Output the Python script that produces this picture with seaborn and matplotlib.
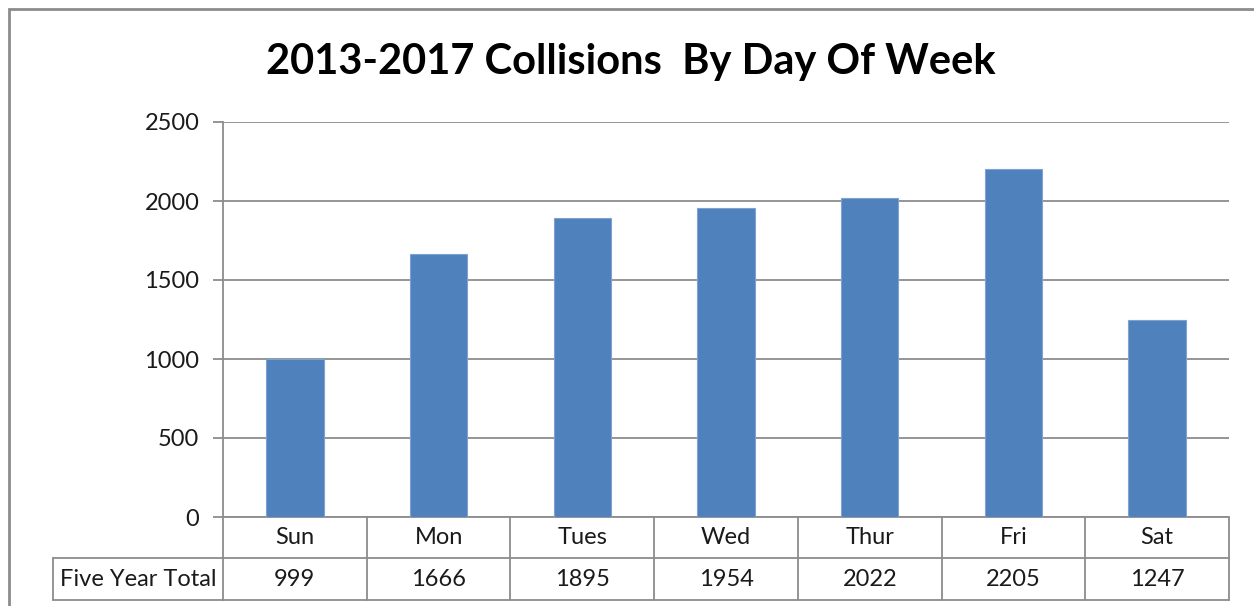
import matplotlib
matplotlib.use("Agg")
import matplotlib.pyplot as plt
import matplotlib.transforms as mtransforms
from matplotlib.patches import Rectangle
import seaborn as sns
import pandas as pd

# ---- data ----
days = ["Sun", "Mon", "Tues", "Wed", "Thur", "Fri", "Sat"]
totals = [999, 1666, 1895, 1954, 2022, 2205, 1247]
row_label = "Five Year Total"
title = "2013-2017 Collisions  By Day Of Week"
y_ticks = [0, 500, 1000, 1500, 2000, 2500]

df = pd.DataFrame({"day": days, "total": totals})

sns.set_style("white")
plt.rcParams["font.family"] = ["Lato", "DejaVu Sans"]

W, H = 1254, 606
fig = plt.figure(figsize=(W / 100, H / 100), dpi=100)
fig.patch.set_facecolor("white")

# plot area in pixels: x 223..1229, y 122..517
ax = fig.add_axes([223 / W, 1 - 517 / H, (1229 - 223) / W, (517 - 122) / H])

sns.barplot(data=df, x="day", y="total", color="#4F81BD", width=0.4,
            saturation=1, ax=ax, zorder=3, edgecolor="#7FA3D1", linewidth=0.8)

grid_col = "#8C8C8C"
txt_col = "#1a1a1a"
fs = 17
ax.set_ylim(0, 2500)
ax.set_xlim(-0.5, len(days) - 0.5)
ax.set_yticks(y_ticks)
ax.set_yticklabels([str(t) for t in y_ticks], fontsize=fs, color=txt_col)
ax.yaxis.grid(True, color=grid_col, linewidth=1.3, zorder=0)
ax.set_axisbelow(True)
ax.tick_params(axis="y", length=7, width=1.3, color=grid_col, pad=10, left=True)
ax.tick_params(axis="x", bottom=False, labelbottom=False)
ax.set_xlabel("")
ax.set_ylabel("")
for side in ["top", "right", "bottom"]:
    ax.spines[side].set_visible(False)
ax.spines["left"].set_color(grid_col)
ax.spines["left"].set_linewidth(1.3)

# ---- data table under the chart ----
tr = mtransforms.blended_transform_factory(ax.transData, fig.transFigure)
y_top = 1 - 517 / H
y_mid = 1 - 558 / H
y_bot = 1 - 600 / H
x_lab = 53 / W
x_ax = 223 / W

lw = 1.3
# vertical separators at category edges
for i in range(len(days) + 1):
    ax.plot([i - 0.5, i - 0.5], [y_top, y_bot], transform=tr, color=grid_col,
            lw=lw, clip_on=False)
# horizontal lines
for yy in [y_top, y_mid, y_bot]:
    ax.plot([-0.5, len(days) - 0.5], [yy, yy], transform=tr, color=grid_col, lw=lw, clip_on=False)
# row label cell
fig.add_artist(plt.Line2D([x_lab, x_ax], [y_mid, y_mid], color=grid_col, lw=lw))
fig.add_artist(plt.Line2D([x_lab, x_ax], [y_bot, y_bot], color=grid_col, lw=lw))
fig.add_artist(plt.Line2D([x_lab, x_lab], [y_mid, y_bot], color=grid_col, lw=lw))

for i, (d, v) in enumerate(zip(days, totals)):
    ax.text(i, (y_top + y_mid) / 2, d, transform=tr, ha="center", va="center",
            fontsize=fs, color=txt_col)
    ax.text(i, (y_mid + y_bot) / 2, str(v), transform=tr, ha="center", va="center",
            fontsize=fs, color=txt_col)
fig.text((x_lab + x_ax) / 2, (y_mid + y_bot) / 2, row_label, ha="center", va="center",
         fontsize=fs, color=txt_col)

# title
fig.text(631 / W, 1 - 62 / H, title, ha="center", va="center", fontsize=30,
         fontweight="bold", color="black")

# outer chart frame
fig.add_artist(Rectangle((8.5 / W, -0.1), 1.2, 1 - 8.5 / H + 0.1, transform=fig.transFigure,
                         fill=False, edgecolor="#8C8C8C", lw=2))

fig.savefig("out.png", dpi=100)
